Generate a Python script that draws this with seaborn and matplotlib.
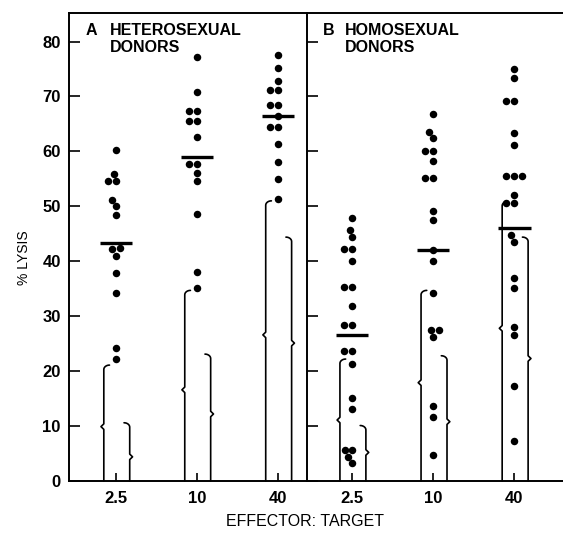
import numpy as np
import pandas as pd
import matplotlib
matplotlib.use('Agg')
import matplotlib.pyplot as plt
import seaborn as sns

# effector:target ratios
ratios = ['2.5', '10', '40']

# A: heterosexual donors, % lysis per donor
hetero_25 = [60.3, 55.9, 54.6, 54.6, 51.2, 50.0, 48.5, 42.4, 42.2, 41.0, 37.9, 34.2, 24.2, 22.2]
hetero_10 = [77.2, 70.8, 67.3, 67.3, 65.6, 65.6, 62.6, 57.7, 57.7, 56.0, 54.6, 48.6, 38.0, 35.1]
hetero_40 = [77.6, 75.2, 72.9, 71.2, 71.2, 68.5, 68.5, 66.4, 64.4, 64.4, 61.4, 58.0, 55.0, 51.3]
hetero_means = [43.3, 59.0, 66.4]

# B: homosexual donors
homo_25 = [47.8, 45.7, 44.4, 42.2, 42.2, 40.0, 35.4, 35.4, 31.8, 28.4, 28.4,
           23.6, 23.6, 21.3, 15.1, 13.1, 5.6, 5.6, 4.4, 3.2]
homo_10 = [66.8, 63.5, 62.4, 60.0, 60.0, 58.3, 55.1, 55.1, 49.1, 47.5, 42.0,
           40.0, 34.3, 27.5, 27.5, 26.2, 13.7, 11.7, 4.7]
homo_40 = [75.0, 73.3, 69.1, 69.1, 63.3, 61.1, 55.6, 55.6, 55.6, 52.1, 50.6,
           50.6, 44.8, 43.6, 36.9, 35.1, 28.0, 26.6, 17.3, 7.3]
homo_means = [26.5, 42.0, 46.1]

# bracketed ranges: top of bracket and its point
hetero_left_top = [21.1, 34.7, 51.0]
hetero_left_mid = [9.9, 16.6, 26.6]
hetero_right_top = [10.6, 23.1, 44.4]
hetero_right_mid = [4.4, 12.2, 25.1]
homo_left_top = [22.2, 34.7, 50.9]
homo_left_mid = [11.1, 17.9, 27.8]
homo_right_top = [10.1, 22.8, 44.4]
homo_right_mid = [5.2, 10.8, 22.3]

sns.set_style('ticks')
plt.rcParams['font.family'] = ['Liberation Sans', 'DejaVu Sans']
plt.rcParams['axes.edgecolor'] = 'black'
plt.rcParams['xtick.color'] = 'black'
plt.rcParams['ytick.color'] = 'black'
plt.rcParams['text.color'] = 'black'


def make_df(cols):
    rows = []
    for r, vals in zip(ratios, cols):
        for v in vals:
            rows.append({'ratio': r, 'lysis': v})
    return pd.DataFrame(rows)


def brace(ax, x, top, mid, side):
    # side=-1: point to the left, hook to the right; side=1: the reverse
    hook = -side * 0.07
    tip = side * 0.035
    r = 0.8
    t = np.linspace(0, np.pi / 2, 10)
    xs = [x, x, x + tip, x, x] + list(x + hook * (1 - np.cos(t)))
    ys = [0, mid - 0.5, mid, mid + 0.5, top - r] + list(top - r + r * np.sin(t))
    ax.plot(xs, ys, color='black', lw=1.2, solid_joinstyle='round', clip_on=False)


fig = plt.figure(figsize=(5.63, 5.36), dpi=100)
axA = fig.add_axes([69 / 563, 55 / 536, 238 / 563, 468 / 536])
axB = fig.add_axes([307 / 563, 55 / 536, 256 / 563, 468 / 536])

panels = [
    (axA, [hetero_25, hetero_10, hetero_40], hetero_means,
     hetero_left_top, hetero_left_mid, hetero_right_top, hetero_right_mid, (-0.58, 2.36)),
    (axB, [homo_25, homo_10, homo_40], homo_means,
     homo_left_top, homo_left_mid, homo_right_top, homo_right_mid, (-0.556, 2.6)),
]

for ax, cols, means, lt, lm, rt, rm, xl in panels:
    df = make_df(cols)
    sns.swarmplot(data=df, x='ratio', y='lysis', order=ratios, color='black',
                  size=5.4, linewidth=0, ax=ax)
    ax.hlines(means, np.arange(3) - 0.2, np.arange(3) + 0.2, color='black', lw=2.4)
    for i in range(3):
        brace(ax, i - 0.15, lt[i], lm[i], -1)
        brace(ax, i + 0.17, rt[i], rm[i], 1)
    ax.set_xlim(*xl)
    ax.set_ylim(0, 85.2)
    ax.set_yticks(range(0, 81, 10))
    ax.set_xlabel('')
    ax.set_ylabel('')
    ax.tick_params(axis='y', direction='in', length=8, width=1.2, pad=6,
                   labelsize=12)
    ax.tick_params(axis='x', direction='in', length=6, width=1.2, pad=7,
                   labelsize=12)
    for lab in ax.get_xticklabels() + ax.get_yticklabels():
        lab.set_fontweight('bold')
    for sp in ax.spines.values():
        sp.set_linewidth(1.4)

axA.spines['right'].set_visible(False)
axB.spines['right'].set_visible(False)
axB.tick_params(axis='y', labelleft=False)

# panel titles
W, H = 563, 536
fig.text(86 / W, 1 - 35 / H, 'A', fontsize=11.5, fontweight='bold', va='baseline')
fig.text(110 / W, 1 - 35 / H, 'HETEROSEXUAL', fontsize=11.5, fontweight='bold', va='baseline')
fig.text(110 / W, 1 - 52 / H, 'DONORS', fontsize=11.5, fontweight='bold', va='baseline')
fig.text(323 / W, 1 - 35 / H, 'B', fontsize=11.5, fontweight='bold', va='baseline')
fig.text(345 / W, 1 - 35 / H, 'HOMOSEXUAL', fontsize=11.5, fontweight='bold', va='baseline')
fig.text(345 / W, 1 - 52 / H, 'DONORS', fontsize=11.5, fontweight='bold', va='baseline')

fig.text(24 / W, 1 - 258 / H, '% LYSIS', rotation=90, fontsize=10,
         ha='center', va='center')
fig.text(305 / W, 1 - 521 / H, 'EFFECTOR: TARGET', fontsize=11.5,
         ha='center', va='center')

fig.savefig('out.png', dpi=100)
